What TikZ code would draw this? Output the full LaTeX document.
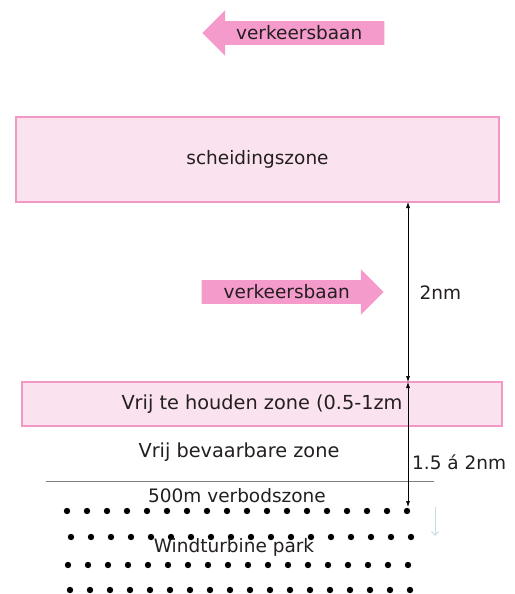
\documentclass[tikz,border=0pt]{standalone}
\usepackage{fontspec}
\setmainfont{DejaVu Sans}
\usepackage{tikz}
\usetikzlibrary{arrows.meta,positioning,shapes.arrows}
\definecolor{lanepink}{RGB}{245,155,203}
\definecolor{zonefill}{RGB}{250,226,239}
\definecolor{zoneedge}{RGB}{241,152,196}
\definecolor{inktext}{RGB}{35,31,32}
\definecolor{faintblue}{RGB}{196,222,223}

\begin{document}
\begin{tikzpicture}[x=1pt,y=-1pt,font=\fontsize{18.5}{22}\selectfont,text=inktext,
  lane/.style={single arrow,fill=lanepink,minimum height=182pt,minimum width=45pt,
    single arrow head extend=11pt,inner xsep=0pt,inner ysep=4.5pt},
  zone/.style={draw=zoneedge,fill=zonefill,line width=1.2pt,inner sep=0pt},
  bigtext/.style={font=\fontsize{19.3}{22}\selectfont},
  dim/.style={{Latex[length=6pt,width=4pt]}-{Latex[length=6pt,width=4pt]},line width=0.6pt}]
  \useasboundingbox (0,0) rectangle (514,594);
  % lanes
  \node[lane,shape border rotate=180,anchor=tip] (laneW) at (202,33) {verkeersbaan};
  \node[lane,anchor=tip] (laneE) at (384,292) {verkeersbaan};
  % zones
  \node[zone,minimum width=483pt,minimum height=85pt] (sep) at (257.5,159.5) {scheidingszone};
  \node[zone,minimum width=480pt,minimum height=44pt] (free) at (262,404) {};
  \node[bigtext] (freetxt) at (262,404) {Vrij te houden zone (0.5-1zm};
  \node[bigtext] (navig) at (239,452) {Vrij bevaarbare zone};
  \draw[gray,line width=0.8pt] (46,481) coordinate (lineW) -- (434,481) coordinate (lineE);
  \node (ban) at (237,496) {500m verbodszone};
  % turbines
  \foreach \y/\x in {511/67,537/71,565/68,590/70}
    \foreach \i in {0,...,17}
      \fill (\x+20*\i,\y) circle (3.2pt);
  \node (park) at (234,547) {Windturbine park};
  % distances
  \coordinate (sepB) at (408,202);
  \coordinate (freeT) at (408,382);
  \coordinate (parkT) at (408,507);
  \draw[dim] (sepB) -- (freeT);
  \draw[dim] (freeT) -- (parkT);
  \node[anchor=west] (d1) at (416,293) {2nm};
  \node[anchor=west,inner sep=2pt] (d2) at (410,462) {1.5 á 2nm};
  \draw[faintblue,-{Straight Barb[length=4pt,width=7pt]},line width=0.8pt] (435,507) coordinate (faintT) -- (435,536) coordinate (faintB);
\end{tikzpicture}
\end{document}
